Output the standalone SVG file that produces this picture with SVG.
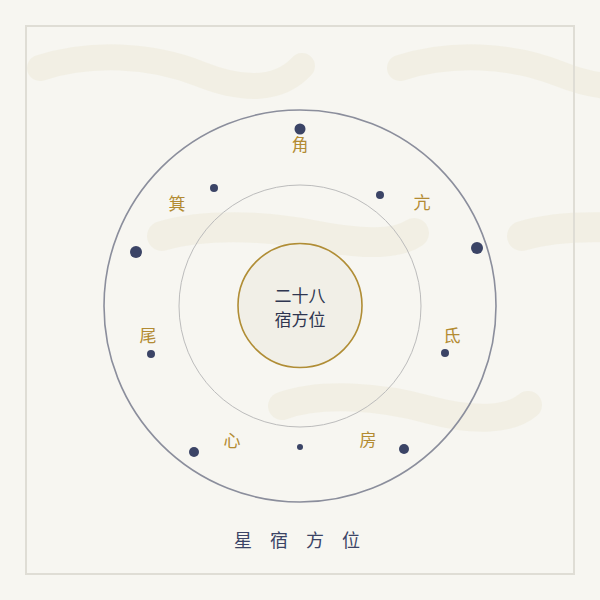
<svg xmlns="http://www.w3.org/2000/svg" width="600" height="600" viewBox="0 0 600 600">
<style>
.brush{fill:none;stroke:#efebdc;stroke-width:26;stroke-linecap:round;opacity:0.6}
.star{fill:#3b4466}
.lbl{font-family:"Noto Sans CJK SC","Noto Sans CJK JP",sans-serif;font-size:17px;fill:#b38b33;text-anchor:middle}
.ctr{font-family:"Noto Sans CJK SC","Noto Sans CJK JP",sans-serif;font-size:17px;fill:#2f3650;text-anchor:middle}
.ttl{font-family:"Noto Sans CJK SC","Noto Sans CJK JP",sans-serif;font-size:18px;fill:#3b4466;text-anchor:middle}
</style>
<defs>
<path id="wave" d="M 0 0 C 50 -16, 110 -14, 160 6 C 205 24, 240 22, 262 -2"/>
<path id="wave2" d="M 0 0 C 40 -12, 100 -11, 150 -1 C 200 9, 235 9, 252 -3"/>
</defs>
<rect width="600" height="600" fill="#f7f6f1"/>
<g id="background">
<use href="#wave" class="brush" transform="translate(40,68)"/>
<use href="#wave" class="brush" transform="translate(400,68)"/>
<use href="#wave2" class="brush" style="stroke-width:30" transform="translate(162,236)"/>
<use href="#wave2" class="brush" style="stroke-width:30" transform="translate(522,236)"/>
<path class="brush" style="stroke-width:28" d="M 282 406 C 320 392, 380 396, 430 410 C 475 422, 510 420, 528 405"/>
</g>
<rect id="frame" x="26" y="26" width="548" height="548" fill="none" stroke="#dfddd5" stroke-width="2"/>
<g id="rings">
<circle id="outer-ring" cx="300" cy="306" r="196" fill="none" stroke="#8b8e9c" stroke-width="1.6"/>
<circle id="inner-ring" cx="300" cy="306" r="121" fill="none" stroke="#bcbcbc" stroke-width="1"/>
</g>
<g id="center">
<circle cx="300" cy="305.5" r="62" fill="#f1efe7" stroke="#b08d35" stroke-width="1.6"/>
<text class="ctr" x="300" y="302">二十八</text>
<text class="ctr" x="300" y="326">宿方位</text>
</g>
<g id="stars">
<circle class="star" cx="300" cy="129" r="5.5"/>
<circle class="star" cx="214" cy="188" r="4"/>
<circle class="star" cx="380" cy="195" r="4"/>
<circle class="star" cx="136" cy="252" r="6"/>
<circle class="star" cx="477" cy="248" r="6"/>
<circle class="star" cx="151" cy="354" r="4"/>
<circle class="star" cx="445" cy="353" r="4"/>
<circle class="star" cx="194" cy="452" r="5"/>
<circle class="star" cx="300" cy="447" r="3"/>
<circle class="star" cx="404" cy="449" r="5"/>
</g>
<g id="mansions">
<text id="jiao" class="lbl" x="300" y="151">角</text>
<text id="kang" class="lbl" x="422" y="209">亢</text>
<text id="di" class="lbl" x="452" y="342">氐</text>
<text id="fang" class="lbl" x="368" y="446">房</text>
<text id="xin" class="lbl" x="232" y="447">心</text>
<text id="wei" class="lbl" x="148" y="342">尾</text>
<text id="ji" class="lbl" x="177" y="210">箕</text>
</g>
<text id="title" class="ttl" x="306" y="547" letter-spacing="18">星宿方位</text>
</svg>
